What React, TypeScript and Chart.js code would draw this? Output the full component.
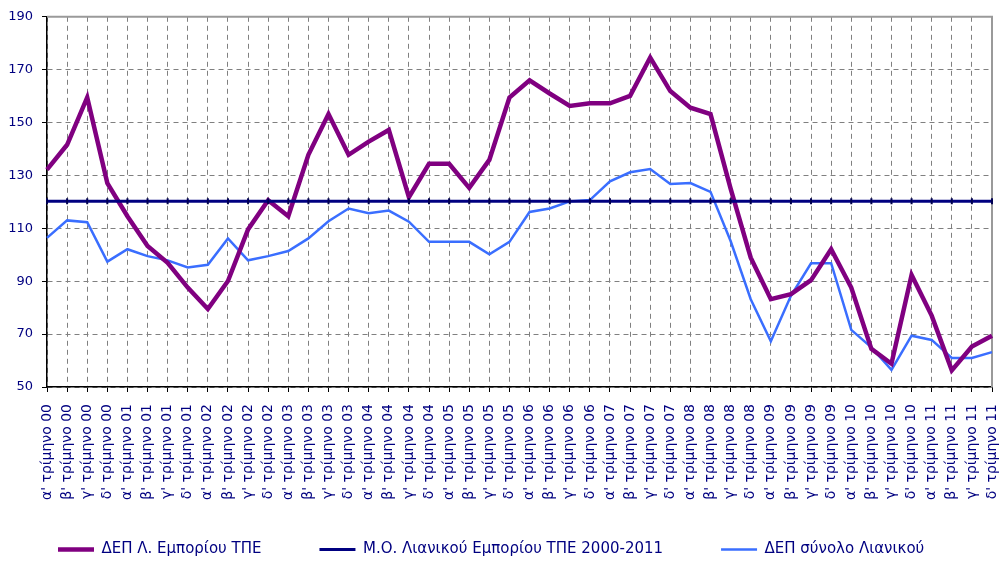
import React, { useEffect, useRef } from "react";
import { Chart, registerables } from "chart.js";

Chart.register(...registerables);

const quarters = ["α'", "β'", "γ'", "δ'"];
const years = ["00", "01", "02", "03", "04", "05", "06", "07", "08", "09", "10", "11"];
const categories = years.flatMap((y) => quarters.map((q) => `${q} τρίμηνο ${y}`));

const depSmallRetail = [
  132.2, 141.6, 159.5, 127.1, 114.6, 103.3, 97, 87.6, 79.5, 90.1, 109.6, 120.6,
  114.6, 137.8, 153.2, 137.8, 142.8, 147.2, 121.8, 134.4, 134.4, 125.3, 135.9, 159.5,
  166, 161, 156.3, 157.3, 157.3, 160.1, 174.6, 161.9, 155.6, 153.2, 125, 98.9,
  83.2, 85.1, 90.4, 102.1, 87.6, 64.4, 58.8, 92.4, 77, 56.3, 65.3, 69.4,
];

const avgRetail = [
  120.2, 120.2, 120.2, 120.2, 120.2, 120.2, 120.2, 120.2, 120.2, 120.2, 120.2, 120.2,
  120.2, 120.2, 120.2, 120.2, 120.2, 120.2, 120.2, 120.2, 120.2, 120.2, 120.2, 120.2,
  120.2, 120.2, 120.2, 120.2, 120.2, 120.2, 120.2, 120.2, 120.2, 120.2, 120.2, 120.2,
  120.2, 120.2, 120.2, 120.2, 120.2, 120.2, 120.2, 120.2, 120.2, 120.2, 120.2, 120.2,
];

const depTotalRetail = [
  106.4, 113, 112.3, 97.4, 102.1, 99.5, 97.9, 95.2, 96.2, 106.2, 97.9, 99.5,
  101.4, 106.2, 112.7, 117.5, 115.7, 116.7, 112.5, 104.9, 104.9, 104.9, 100.2, 104.9,
  116.2, 117.5, 120.2, 120.7, 127.8, 131.2, 132.4, 126.8, 127.1, 123.8, 105.2, 83.2,
  67.3, 84.5, 96.8, 96.8, 71.6, 65, 56.5, 69.4, 67.8, 61, 61, 63.2,
];

const seriesNames = [
  "ΔΕΠ Λ. Εμπορίου ΤΠΕ",
  "Μ.Ο. Λιανικού Εμπορίου ΤΠΕ 2000-2011",
  "ΔΕΠ σύνολο Λιανικού",
];

const yTicks = { min: 50, max: 190, step: 20 };

const NAVY = "#000080";
const FONT = "'DejaVu Sans', Verdana, sans-serif";

const framePlugin = {
  id: "frame",
  beforeDatasetsDraw(chart: any) {
    const { ctx, chartArea } = chart;
    const { top, right, bottom } = chartArea;
    const left = chartArea.left;
    ctx.save();
    ctx.strokeStyle = "#9a9a9a";
    ctx.lineWidth = 2;
    ctx.beginPath();
    ctx.moveTo(left, top);
    ctx.lineTo(right, top);
    ctx.lineTo(right, bottom);
    ctx.stroke();
    ctx.restore();
  },
};

export default function App() {
  const canvasRef = useRef<HTMLCanvasElement | null>(null);

  useEffect(() => {
    if (!canvasRef.current) return;
    const chart = new Chart(canvasRef.current, {
      type: "line",
      data: {
        labels: categories,
        datasets: [
          {
            label: seriesNames[0],
            data: depSmallRetail,
            borderColor: "#800080",
            backgroundColor: "#800080",
            borderWidth: 4.5,
            pointRadius: 0,
            tension: 0,
            order: 1,
          },
          {
            label: seriesNames[1],
            data: avgRetail,
            borderColor: NAVY,
            backgroundColor: NAVY,
            borderWidth: 3,
            pointRadius: 3,
            pointStyle: "line",
            pointRotation: 90,
            pointBorderWidth: 2,
            pointBorderColor: "#000050",
            tension: 0,
            order: 0,
          },
          {
            label: seriesNames[2],
            data: depTotalRetail,
            borderColor: "#3a6eff",
            backgroundColor: "#3a6eff",
            borderWidth: 2.5,
            pointRadius: 0,
            tension: 0,
            order: 2,
          },
        ],
      },
      options: {
        animation: false,
        responsive: false,
        maintainAspectRatio: false,
        layout: { padding: { top: 15, right: 16, left: 0, bottom: 0 } },
        plugins: {
          tooltip: { enabled: false },
          legend: {
            position: "bottom",
            align: "start",
            labels: {
              usePointStyle: true,
              pointStyle: "line",
              pointStyleWidth: 36,
              padding: 58,
              color: NAVY,
              font: { family: FONT, size: 15 },
              sort: (a: any, b: any) => a.datasetIndex - b.datasetIndex,
              generateLabels(c: any) {
                const items = (Chart as any).defaults.plugins.legend.labels.generateLabels(c);
                items.forEach((it: any) => {
                  const ds = c.data.datasets[it.datasetIndex];
                  it.lineWidth = ds.borderWidth;
                  it.strokeStyle = ds.borderColor;
                  it.rotation = 0;
                  it.pointStyle = "line";
                });
                return items;
              },
            },
          },
        },
        scales: {
          x: {
            type: "category",
            offset: false,
            grid: {
              offset: false,
              color: "#808080",
              tickColor: "#000",
              tickLength: 5,
              tickBorderDash: [],
            },
            border: { color: "#000", width: 1.5, dash: [5, 4] },
            ticks: {
              autoSkip: false,
              minRotation: 90,
              maxRotation: 90,
              padding: 12,
              color: NAVY,
              font: { family: FONT, size: 14 },
            },
            afterFit(scale: any) {
              scale.height = 97;
              scale.paddingLeft = 0;
              scale.paddingRight = 0;
              scale._computeLabelArea = () => undefined;
            },
          },
          y: {
            min: yTicks.min,
            max: yTicks.max,
            grid: {
              color: "#808080",
              tickColor: "#000",
              tickLength: 5,
              tickBorderDash: [],
            },
            border: { color: "#000", width: 1.5, dash: [5, 4] },
            ticks: {
              stepSize: yTicks.step,
              padding: 9,
              color: NAVY,
              font: { family: FONT, size: 13 },
            },
            afterFit(scale: any) {
              scale.width = 47;
            },
          },
        },
      },
      plugins: [framePlugin],
    });
    return () => chart.destroy();
  }, []);

  return (
    <div style={{ position: "fixed", left: 0, top: 0, width: 1008, height: 567, background: "#fff" }}>
      <canvas ref={canvasRef} width={1008} height={567} style={{ display: "block" }} />
    </div>
  );
}
